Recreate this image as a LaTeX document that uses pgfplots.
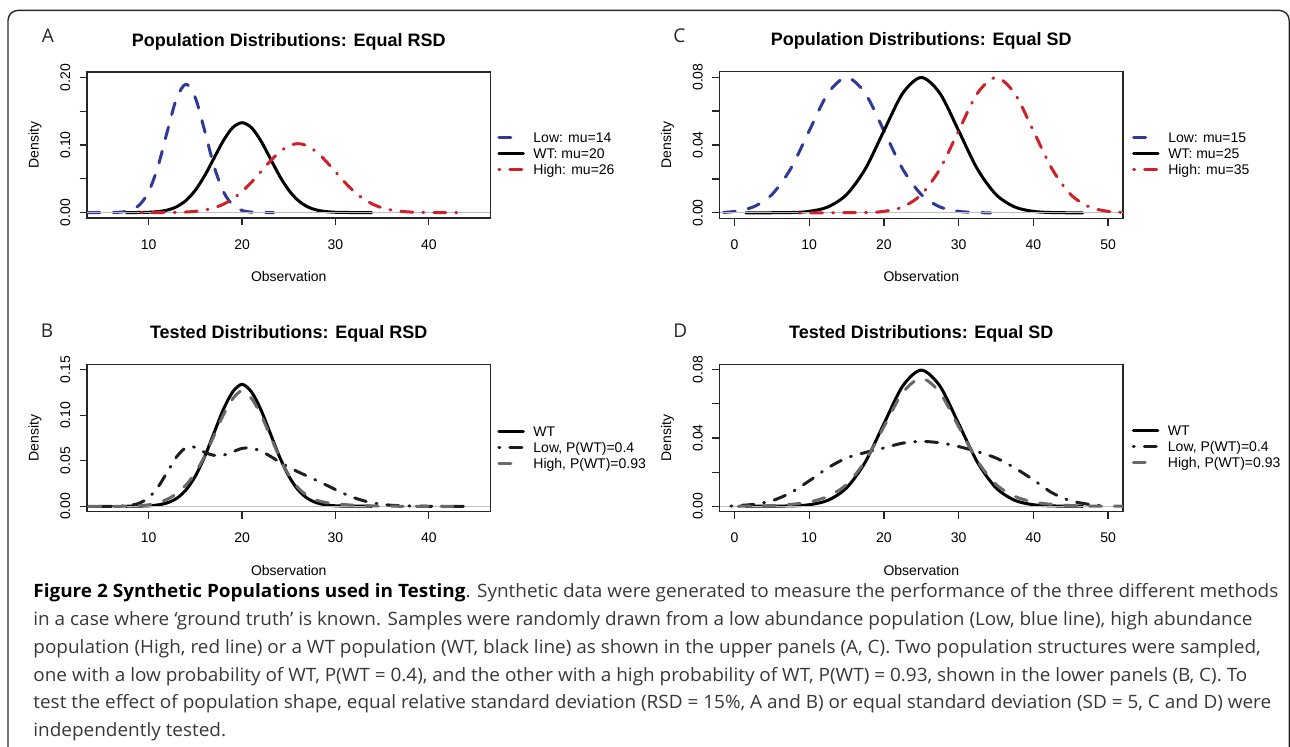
\documentclass[border=0pt]{standalone}
\usepackage{pgfplots}
\pgfplotsset{compat=1.18}
\usepackage{fontspec}
\setmainfont{Liberation Sans}
\newfontfamily\rfont{Liberation Sans}
\newfontfamily\capfont{Open Sans}[FakeStretch=1.03]
\newfontfamily\letfont{Open Sans}
\definecolor{rblue}{RGB}{48,56,152}
\definecolor{rred}{RGB}{206,34,42}
\definecolor{zgray}{RGB}{190,190,190}
\definecolor{mgray}{RGB}{105,105,105}
\definecolor{dblack}{RGB}{30,30,30}
\definecolor{capgray}{RGB}{55,55,55}
\definecolor{framec}{RGB}{40,40,40}
\tikzset{
  wtline/.style={black, line width=1.5pt, line cap=round, line join=round},
  dashln/.style={line width=1.5pt, line cap=round, line join=round, dash pattern=on 6pt off 6.5pt},
  dotdashln/.style={line width=1.5pt, line cap=round, line join=round, dash pattern=on 0.5pt off 5pt on 6pt off 5pt},
  zeroln/.style={zgray, line width=0.5pt},
}
\pgfplotsset{
  rpanel/.style={
    scale only axis, width=201.65pt,
    scaled x ticks=false, scaled y ticks=false,
    axis line style={line width=0.6pt, black!85},
    tick align=outside, tick pos=left, major tick length=3.7pt,
    tick style={line width=0.6pt, black!85},
    ticklabel style={font=\rfont\fontsize{7}{8}\selectfont},
    xticklabel style={anchor=north, inner sep=0pt, yshift=-6.8pt},
    yticklabel style={rotate=90, anchor=south, inner sep=4.5pt},
    label style={font=\rfont\fontsize{7}{8}\selectfont},
    xlabel style={at={(axis description cs:0.5,-0.40)}, anchor=center},
    ylabel style={at={(axis description cs:-0.129,0.5)}, anchor=center},
    title style={at={(axis description cs:0.5,1.21)}, anchor=center, yshift=-6pt, font=\rfont\bfseries\fontsize{9}{10}\selectfont},
    xlabel={Observation}, ylabel={Density},
    legend style={draw=none, fill=none, inner sep=0pt, outer sep=0pt, anchor=west,
      font=\rfont\fontsize{7}{8}\selectfont, row sep=3pt, column sep=4.3pt,
      nodes={inner sep=0pt, text height=5pt, text depth=0pt}},
    legend cell align=left,
    legend image code/.code={\draw[##1] (0pt,0pt) -- (12.3pt,0pt);},
    every axis plot/.append style={smooth},
  }
}
\begin{document}
\begin{tikzpicture}
\useasboundingbox (0pt,0pt) rectangle (645pt,-373pt);
\draw[framec, line width=0.7pt, rounded corners=5pt] (4pt,-390pt) -- (4pt,-5.2pt) -- (644.6pt,-5.2pt) -- (644.6pt,-390pt);

% ---------------- Panel A ----------------
\begin{axis}[rpanel, at={(43.55pt,-109pt)}, anchor=south west, height=73pt,
  xmin=3.4, xmax=46.6, ymin=-0.008, ymax=0.208,
  xtick={10,20,30,40}, xticklabels={10,20,30,40},
  ytick={0,0.05,0.1,0.15,0.2}, yticklabels={0.00,,0.10,,0.20},
  title={Population Distributions: Equal RSD},
  legend style={at={(axis description cs:1.017,0.44)}}]
\addplot[rblue, dashln] coordinates {(3.5,0) (6,0.0001) (7,0.0007) (8,0.0032) (9,0.0112) (10,0.0310) (11,0.0685) (12,0.1207) (13,0.1696) (14,0.1900) (15,0.1696) (16,0.1207) (17,0.0685) (18,0.0310) (19,0.0112) (20,0.0032) (21,0.0007) (22,0.0001) (23.4,0)};
\addlegendentry{Low: mu=14}
\addplot[wtline] coordinates {(7.6,0) (9,0.0002) (10,0.0005) (11,0.0015) (12,0.0038) (13,0.0087) (14,0.0180) (15,0.0332) (16,0.0547) (17,0.0807) (18,0.1065) (19,0.1258) (20,0.1330) (21,0.1258) (22,0.1065) (23,0.0807) (24,0.0547) (25,0.0332) (26,0.0180) (27,0.0087) (28,0.0038) (29,0.0015) (30,0.0005) (31,0.0002) (33.9,0)};
\addlegendentry{WT: mu=20}
\addplot[zeroln, forget plot, sharp plot] coordinates {(3.4,0) (46.6,0)};
\addplot[rred, dotdashln] coordinates {(9.2,0) (12,0.0002) (13,0.0004) (14,0.0009) (15,0.0019) (16,0.0038) (17,0.0071) (18,0.0124) (19,0.0204) (20,0.0312) (21,0.0448) (22,0.0603) (23,0.0759) (24,0.0894) (25,0.0987) (26,0.1020) (27,0.0987) (28,0.0894) (29,0.0759) (30,0.0603) (31,0.0448) (32,0.0312) (33,0.0204) (34,0.0124) (35,0.0071) (36,0.0038) (37,0.0019) (38,0.0009) (39,0.0004) (40,0.0002) (43.4,0)};
\addlegendentry{High: mu=26}
\end{axis}

% ---------------- Panel C ----------------
\begin{axis}[rpanel, at={(359.8pt,-109.15pt)}, anchor=south west, width=201.7pt, height=73.3pt,
  xmin=-2, xmax=52, ymin=-0.0032, ymax=0.0832,
  xtick={0,10,20,30,40,50}, xticklabels={0,10,20,30,40,50},
  ytick={0,0.02,0.04,0.06,0.08}, yticklabels={0.00,,0.04,,0.08},
  title={Population Distributions: Equal SD},
  legend style={at={(axis description cs:1.0225,0.44)}}]
\addplot[rblue, dashln] coordinates {(-1.5,0.0003) (0,0.0009) (2.5,0.0035) (5,0.0108) (7.5,0.0259) (10,0.0484) (12.5,0.0704) (15,0.0798) (17.5,0.0704) (20,0.0484) (22.5,0.0259) (25,0.0108) (27.5,0.0035) (30,0.0009) (32.5,0.0002) (34.3,0)};
\addlegendentry{Low: mu=15}
\addplot[wtline] coordinates {(1.5,0) (7.5,0.0002) (10,0.0009) (12.5,0.0035) (15,0.0108) (17.5,0.0259) (20,0.0484) (22.5,0.0704) (25,0.0798) (27.5,0.0704) (30,0.0484) (32.5,0.0259) (35,0.0108) (37.5,0.0035) (40,0.0009) (42.5,0.0002) (46.6,0)};
\addlegendentry{WT: mu=25}
\addplot[zeroln, forget plot, sharp plot] coordinates {(-2,0) (52,0)};
\addplot[rred, dotdashln] coordinates {(8.7,0) (17.5,0.0002) (20,0.0009) (22.5,0.0035) (25,0.0108) (27.5,0.0259) (30,0.0484) (32.5,0.0704) (35,0.0798) (37.5,0.0704) (40,0.0484) (42.5,0.0259) (45,0.0108) (47.5,0.0035) (50,0.0009) (52.1,0.0003)};
\addlegendentry{High: mu=35}
\end{axis}

% ---------------- Panel B ----------------
\begin{axis}[rpanel, at={(43.55pt,-255.85pt)}, anchor=south west, height=73.7pt,
  xmin=3.4, xmax=46.6, ymin=-0.006, ymax=0.156,
  xtick={10,20,30,40}, xticklabels={10,20,30,40},
  ytick={0,0.05,0.1,0.15}, yticklabels={0.00,0.05,0.10,0.15},
  title={Tested Distributions: Equal RSD},
  legend style={at={(axis description cs:1.017,0.437)}}]
\addplot[wtline] coordinates {(7.6,0) (9,0.0002) (10,0.0005) (11,0.0015) (12,0.0038) (13,0.0087) (14,0.0180) (15,0.0332) (16,0.0547) (17,0.0807) (18,0.1065) (19,0.1258) (20,0.1340) (21,0.1258) (22,0.1065) (23,0.0807) (24,0.0547) (25,0.0332) (26,0.0180) (27,0.0087) (28,0.0038) (29,0.0015) (30,0.0005) (31,0.0002) (33.9,0)};
\addlegendentry{WT}
\addplot[zeroln, forget plot, sharp plot] coordinates {(3.4,0) (46.6,0)};
\addplot[dblack, dotdashln] coordinates {(3.6,0) (6,0.0000) (7,0.0002) (8,0.0010) (9,0.0034) (10,0.0095) (11,0.0212) (12,0.0378) (13,0.0545) (14,0.0645) (15,0.0648) (16,0.0592) (17,0.0560) (18,0.0562) (19,0.0598) (20,0.0636) (21,0.0639) (22,0.0607) (23,0.0551) (24,0.0487) (25,0.0429) (26,0.0378) (27,0.0331) (28,0.0283) (29,0.0234) (30,0.0183) (31,0.0135) (32,0.0094) (33,0.0061) (34,0.0037) (35,0.0021) (36,0.0011) (37,0.0006) (38,0.0003) (39,0.0001) (40,0) (43.7,0)};
\addlegendentry{Low, P(WT)=0.4}
\addplot[mgray, dashln] coordinates {(3.6,0) (7,0) (8,0.0002) (9,0.0006) (10,0.0016) (11,0.0038) (12,0.0077) (13,0.0140) (14,0.0234) (15,0.0369) (16,0.0552) (17,0.0777) (18,0.1005) (19,0.1181) (20,0.1270) (21,0.1186) (22,0.1011) (23,0.0778) (24,0.0540) (25,0.0344) (26,0.0203) (27,0.0116) (28,0.0066) (29,0.0041) (30,0.0026) (31,0.0018) (32,0.0011) (33,0.0007) (34,0.0004) (35,0.0002) (36,0.0001) (37,0) (43.7,0)};
\addlegendentry{High, P(WT)=0.93}
\end{axis}

% ---------------- Panel D ----------------
\begin{axis}[rpanel, at={(359.8pt,-255.85pt)}, anchor=south west, width=201.7pt, height=73.7pt,
  xmin=-2, xmax=52, ymin=-0.0032, ymax=0.0832,
  xtick={0,10,20,30,40,50}, xticklabels={0,10,20,30,40,50},
  ytick={0,0.02,0.04,0.06,0.08}, yticklabels={0.00,,0.04,,0.08},
  title={Tested Distributions: Equal SD},
  legend style={at={(axis description cs:1.0217,0.44)}}]
\addplot[wtline] coordinates {(1.5,0) (7.5,0.0002) (10,0.0009) (12.5,0.0035) (15,0.0108) (17.5,0.0259) (20,0.0484) (22.5,0.0704) (25,0.0798) (27.5,0.0704) (30,0.0484) (32.5,0.0259) (35,0.0108) (37.5,0.0035) (40,0.0009) (42.5,0.0002) (46.6,0)};
\addlegendentry{WT}
\addplot[zeroln, forget plot, sharp plot] coordinates {(-2,0) (52,0)};
\addplot[dblack, dotdashln] coordinates {(-0.5,0.0001) (0,0.0003) (2.5,0.0011) (5,0.0032) (7.5,0.0079) (10,0.0149) (12.5,0.0225) (15,0.0283) (17.5,0.0315) (20,0.0342) (22.5,0.0370) (25,0.0380) (27.5,0.0372) (30,0.0350) (32.5,0.0320) (35,0.0283) (37.5,0.0225) (40,0.0155) (42.5,0.0079) (45,0.0032) (47.5,0.0011) (49.5,0.0003)};
\addlegendentry{Low, P(WT)=0.4}
\addplot[mgray, dashln] coordinates {(0.5,0) (2.5,0.0001) (5,0.0004) (7.5,0.0011) (10,0.0025) (12.5,0.0058) (15,0.0128) (17.5,0.0266) (20,0.0467) (22.5,0.0665) (25,0.0750) (27.5,0.0665) (30,0.0467) (32.5,0.0266) (35,0.0128) (37.5,0.0058) (40,0.0025) (42.5,0.0011) (45,0.0004) (47.5,0.0001) (52.1,0)};
\addlegendentry{High, P(WT)=0.93}
\end{axis}

% panel letters
\node[font=\letfont\fontsize{9.5}{10}\selectfont, text=black!85] at (23.9pt,-18pt) {A};
\node[font=\letfont\fontsize{9.5}{10}\selectfont, text=black!85] at (339.7pt,-18pt) {C};
\node[font=\letfont\fontsize{9.5}{10}\selectfont, text=black!85] at (23.5pt,-165.2pt) {B};
\node[font=\letfont\fontsize{9.5}{10}\selectfont, text=black!85] at (340.2pt,-165.2pt) {D};

% caption
\node[anchor=base west, inner sep=0pt, text=capgray, font=\capfont\fontsize{9.2}{13.95}\selectfont] at (16.5pt,-298.65pt) {\parbox[t]{627pt}{\raggedright\leavevmode
{\color{black}\bfseries Figure 2 Synthetic Populations used in Testing}. Synthetic data were generated to measure the performance of the three different methods\\
in a case where ‘ground truth’ is known. Samples were randomly drawn from a low abundance population (Low, blue line), high abundance\\
population (High, red line) or a WT population (WT, black line) as shown in the upper panels (A, C). Two population structures were sampled,\\
one with a low probability of WT, P(WT = 0.4), and the other with a high probability of WT, P(WT) = 0.93, shown in the lower panels (B, C). To\\
test the effect of population shape, equal relative standard deviation (RSD = 15\%, A and B) or equal standard deviation (SD = 5, C and D) were\\
independently tested.}};
\end{tikzpicture}
\end{document}
